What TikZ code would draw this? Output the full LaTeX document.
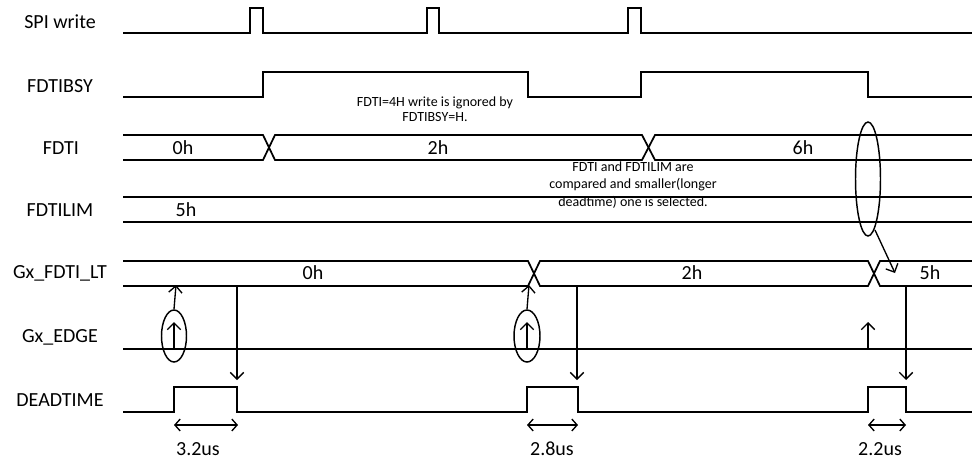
\documentclass[tikz,border=0pt]{standalone}
\usepackage{fontspec}
\setmainfont{Carlito}
\usetikzlibrary{shapes.geometric,arrows.meta}
\begin{document}
\begin{tikzpicture}[x=0.75pt,y=-0.75pt,
  sig/.style={line width=1.3pt, line join=miter},
  lbl/.style={font=\fontsize{15}{18}\selectfont, inner sep=0pt},
  val/.style={font=\fontsize{15}{18}\selectfont, inner sep=0pt},
  note/.style={font=\fontsize{10.5}{13}\selectfont, align=center, inner sep=0pt},
  arr/.style={line width=1pt, -{Straight Barb[length=5pt,width=10pt]}},
  darr/.style={line width=1pt, {Straight Barb[length=4pt,width=9pt]}-{Straight Barb[length=4pt,width=9pt]}},
  oval/.style={draw, ellipse, line width=1.1pt, inner sep=0pt}]
\useasboundingbox (0,0) rectangle (972,461);
% labels
\node[lbl] (lspi) at (60,22) {SPI write};
\node[lbl] (lbsy) at (60,86) {FDTIBSY};
\node[lbl] (lfdti) at (61,148) {FDTI};
\node[lbl] (llim) at (60,210) {FDTILIM};
\node[lbl] (llt) at (60,273) {Gx\_FDTI\_LT};
\node[lbl] (ledge) at (60,337) {Gx\_EDGE};
\node[lbl] (ldead) at (60,400) {DEADTIME};
% SPI write
\draw[sig] (123,33) -- (250,33) -- (250,8) -- (263,8) -- (263,33) -- (427,33) -- (427,8) -- (439,8) -- (439,33) -- (628,33) -- (628,8) -- (641,8) -- (641,33) -- (972,33);
% FDTIBSY
\draw[sig] (123,97) -- (263,97) -- (263,72) -- (528,72) -- (528,97) -- (641,97) -- (641,72) -- (868,72) -- (868,97) -- (972,97);
\node[note, font=\fontsize{10.5}{11.5}\selectfont] (n1) at (435,109) {FDTI=4H write is ignored by\\FDTIBSY=H.};
% FDTI
\draw[sig] (123,135) -- (263,135) -- (275,160) -- (642,160) -- (655,135) -- (972,135);
\draw[sig] (123,160) -- (263,160) -- (275,135) -- (642,135) -- (655,160) -- (972,160);
\node[val] (v0) at (183,148) {0h};
\node[val] (v2) at (438,148) {2h};
\node[val] (v6) at (803,148) {6h};
% FDTILIM
\draw[sig] (123,197) -- (972,197);
\draw[sig] (123,222) -- (972,222);
\node[val] (v5) at (186,210) {5h};
\node[note] (n2) at (633,185) {FDTI and FDTILIM are\\compared and smaller(longer\\deadtime) one is selected.};
% Gx_FDTI_LT
\draw[sig] (123,261) -- (528,261) -- (540,286) -- (868,286) -- (880,261) -- (972,261);
\draw[sig] (123,286) -- (528,286) -- (540,261) -- (868,261) -- (880,286) -- (972,286);
\node[val] (w0) at (313,273) {0h};
\node[val] (w2) at (692,273) {2h};
\node[val] (w5) at (930,273) {5h};
% Gx_EDGE
\draw[sig] (123,349) -- (972,349);
\coordinate (u1b) at (174,349); \coordinate (u1t) at (174,322);
\coordinate (u2b) at (527,349); \coordinate (u2t) at (527,322);
\coordinate (u3b) at (868,349); \coordinate (u3t) at (868,322);
\draw[arr] (u1b) -- (u1t);
\draw[arr] (u2b) -- (u2t);
\draw[arr] (u3b) -- (u3t);
\node[oval, minimum width=18.75pt, minimum height=39pt] (e1) at (174,336) {};
\node[oval, minimum width=19.5pt, minimum height=39pt] (e2) at (527,336) {};
\node[oval, minimum width=18.75pt, minimum height=85.5pt] (e3) at (868,179) {};
\coordinate (t1) at (176,285);
\coordinate (t2) at (529,285);
\draw[arr] (e1.north) -- (t1);
\draw[arr] (e2.north) -- (t2);
\coordinate (s3) at (875,230);
\coordinate (t3) at (895,273);
\draw[arr] (s3) -- (t3);
% DEADTIME
\draw[sig] (123,412) -- (174,412) -- (174,387) -- (237,387) -- (237,412) -- (527,412) -- (527,387) -- (578,387) -- (578,412) -- (868,412) -- (868,387) -- (906,387) -- (906,412) -- (972,412);
\coordinate (d1a) at (237,286); \coordinate (d1b) at (237,380);
\coordinate (d2a) at (577,286); \coordinate (d2b) at (577,380);
\coordinate (d3a) at (906,286); \coordinate (d3b) at (906,380);
\draw[arr] (d1a) -- (d1b);
\draw[arr] (d2a) -- (d2b);
\draw[arr] (d3a) -- (d3b);
% durations
\coordinate (p1a) at (174,425); \coordinate (p1b) at (238,425);
\coordinate (p2a) at (527,425); \coordinate (p2b) at (578,425);
\coordinate (p3a) at (868,425); \coordinate (p3b) at (906,425);
\draw[darr] (p1a) -- (p1b);
\draw[darr] (p2a) -- (p2b);
\draw[darr] (p3a) -- (p3b);
\node[val] (m1) at (198,449) {3.2us};
\node[val] (m2) at (552,449) {2.8us};
\node[val] (m3) at (880,449) {2.2us};
\end{tikzpicture}
\end{document}
